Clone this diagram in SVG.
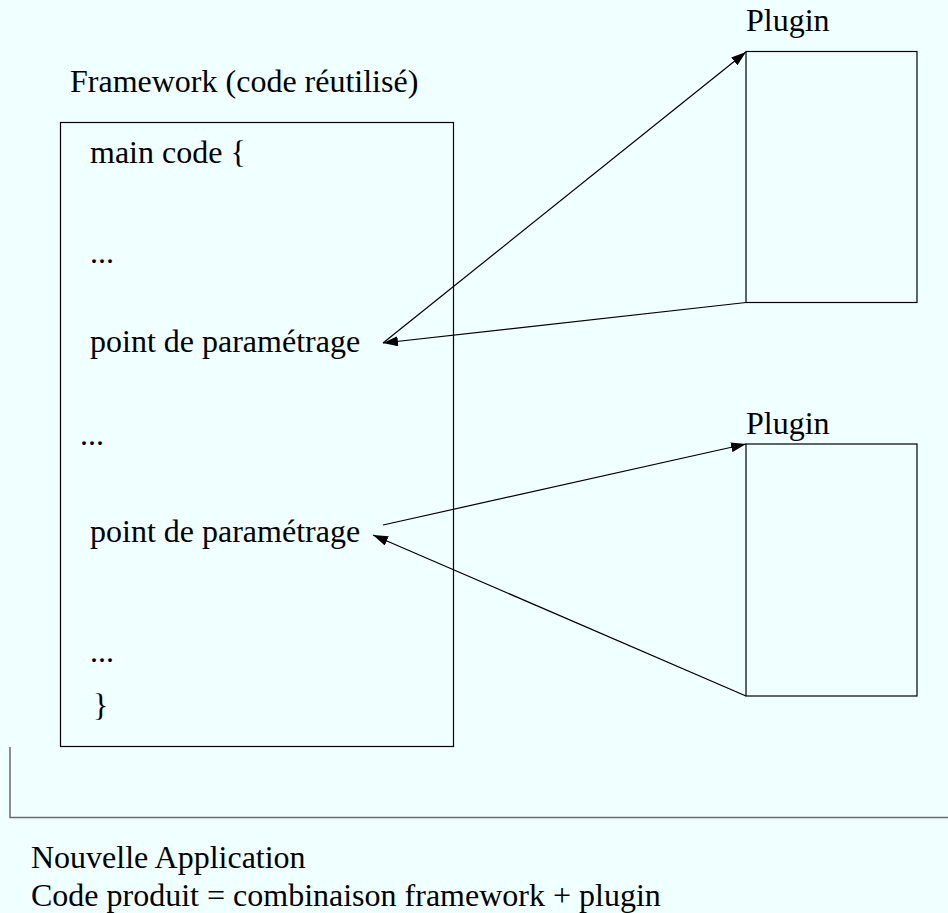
<svg xmlns="http://www.w3.org/2000/svg" width="948" height="913" viewBox="0 0 948 913">
<defs>
<marker id="ah" markerUnits="userSpaceOnUse" markerWidth="16" markerHeight="10" refX="15" refY="5" orient="auto">
<path d="M0,0 L15,5 L0,10 Z" fill="#000"/>
</marker>
<style>
.t{font-family:"Liberation Serif","Times New Roman",serif;font-size:32px;fill:#000}
.b{fill:none;stroke:#000;stroke-width:1.2}
.c{fill:none;stroke:#000;stroke-width:1.2;marker-end:url(#ah)}
</style>
</defs>
<rect x="0" y="0" width="948" height="913" fill="#f0ffff"/>
<g id="application">
<path d="M10,747 L10,817.5 L948,817.5" fill="none" stroke="#6a6a6a" stroke-width="1.5"/>
<text class="t" x="31" y="868">Nouvelle Application</text>
<text class="t" x="31" y="906">Code produit = combinaison framework + plugin</text>
</g>
<g id="framework">
<text class="t" x="70" y="92">Framework (code réutilisé)</text>
<rect class="b" x="60.5" y="122.5" width="393" height="624"/>
<text class="t" x="90" y="163">main code {</text>
<text class="t" x="90" y="263">...</text>
<text class="t" x="90" y="352">point de paramétrage</text>
<text class="t" x="80" y="445">...</text>
<text class="t" x="90" y="542">point de paramétrage</text>
<text class="t" x="90" y="662">...</text>
<text class="t" x="93" y="716">}</text>
</g>
<g id="plugin1">
<text class="t" x="746" y="31">Plugin</text>
<rect class="b" x="746" y="51.5" width="171" height="251"/>
</g>
<g id="plugin2">
<text class="t" x="746" y="434">Plugin</text>
<rect class="b" x="746" y="444" width="171" height="252"/>
</g>
<g id="connectors">
<line class="c" x1="383" y1="343" x2="746" y2="52"/>
<line class="c" x1="746" y1="302.5" x2="383" y2="343"/>
<line class="c" x1="383" y1="525" x2="746" y2="444"/>
<line class="c" x1="746" y1="696" x2="373" y2="535"/>
</g>
</svg>
